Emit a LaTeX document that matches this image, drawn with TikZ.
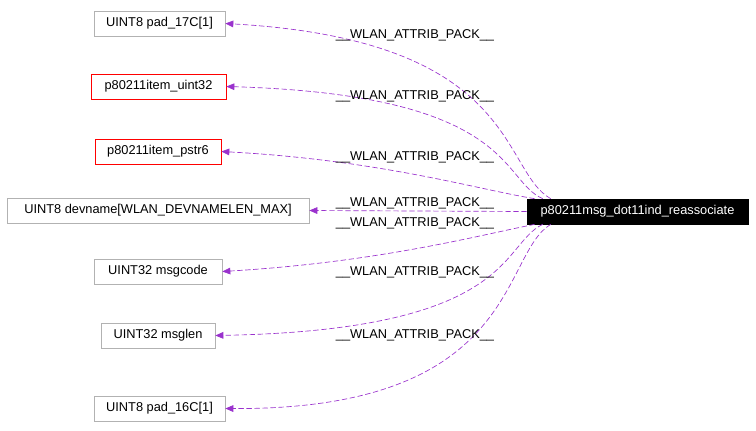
\documentclass[tikz,border=0pt]{standalone}
\usepackage{fontspec}
\setmainfont{Liberation Sans}
\usetikzlibrary{arrows.meta}
\definecolor{edge}{HTML}{9A32CD}
\tikzset{
  box/.style={draw=#1, fill=white, minimum height=18.75pt, inner xsep=4pt, font=\fontsize{9.6}{11}\selectfont, line width=0.5pt},
  box/.default={gray!60},
  lnk/.style={draw=edge, dashed, dash pattern=on 4pt off 2pt, line width=0.5pt, -{Triangle[length=6pt,width=5pt]}},
  lbl/.style={font=\fontsize{9.6}{11}\selectfont, inner sep=0pt}
}
\begin{document}
\begin{tikzpicture}[x=0.75pt,y=-0.75pt]
\useasboundingbox (0,0) rectangle (756,430);
\node[box, minimum width=98.25pt] (p17) at (159.5,23.5) {UINT8 pad\_17C[1]};
\node[box=red, minimum width=101.25pt] (u32) at (158.5,86.5) {p80211item\_uint32};
\node[box=red, minimum width=94.5pt] (ps6) at (158,151.5) {p80211item\_pstr6};
\node[box, minimum width=226.5pt] (dev) at (158,210.5) {UINT8 devname[WLAN\_DEVNAMELEN\_MAX]};
\node[box, minimum width=96pt] (mc) at (158,271.5) {UINT32 msgcode};
\node[box, minimum width=85.5pt] (ml) at (158,335.5) {UINT32 msglen};
\node[box, minimum width=98.25pt] (p16) at (159.5,408.5) {UINT8 pad\_16C[1]};
\node[box=black, fill=black, text=white, minimum width=165.75pt] (main) at (637.5,211.5) {p80211msg\_dot11ind\_reassociate};

\draw[lnk] ([xshift=18]main.north west) .. controls (500,170) and (520,40) .. (p17.east);
\draw[lnk] ([xshift=12]main.north west) .. controls (500,180) and (515,95) .. (u32.east);
\draw[lnk] ([xshift=6]main.north west) .. controls (480,190) and (380,160) .. (ps6.east);
\draw[lnk] (main.west) -- (dev.east);
\draw[lnk] ([xshift=6]main.south west) .. controls (480,235) and (380,262) .. (mc.east);
\draw[lnk] ([xshift=12]main.south west) .. controls (500,245) and (515,330) .. (ml.east);
\draw[lnk] ([xshift=18]main.south west) .. controls (500,255) and (520,410) .. (p16.east);

\node[lbl] (l1) at (415,35) {\_\_WLAN\_ATTRIB\_PACK\_\_};
\node[lbl] (l2) at (415,96) {\_\_WLAN\_ATTRIB\_PACK\_\_};
\node[lbl] (l3) at (415,157) {\_\_WLAN\_ATTRIB\_PACK\_\_};
\node[lbl] (l4) at (415,203) {\_\_WLAN\_ATTRIB\_PACK\_\_};
\node[lbl] (l5) at (415,223) {\_\_WLAN\_ATTRIB\_PACK\_\_};
\node[lbl] (l6) at (415,272) {\_\_WLAN\_ATTRIB\_PACK\_\_};
\node[lbl] (l7) at (415,335) {\_\_WLAN\_ATTRIB\_PACK\_\_};
\end{tikzpicture}
\end{document}
